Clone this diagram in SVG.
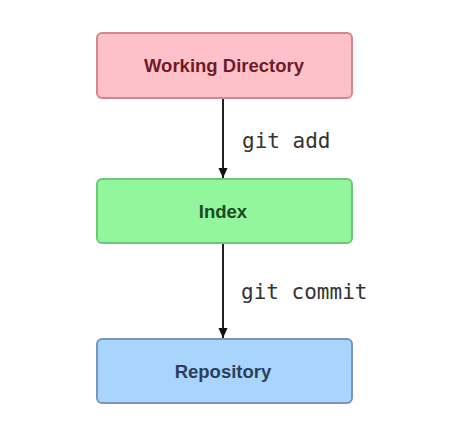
<svg xmlns="http://www.w3.org/2000/svg" width="465" height="436" viewBox="0 0 465 436">
<defs>
<style>
.box{stroke-width:2}
.lbl{font-family:"Liberation Sans",Arial,sans-serif;font-weight:bold;font-size:18.5px;text-anchor:middle}
.cmd{font-family:"DejaVu Sans Mono","Liberation Mono",monospace;font-size:21px;fill:#333}
.edge{stroke:#222;stroke-width:2;fill:none}
</style>
<marker id="ah" markerWidth="10" markerHeight="11" refX="11" refY="5" orient="auto" markerUnits="userSpaceOnUse" viewBox="0 0 11 10">
<path d="M0,0 L11,5 L0,10 Z" fill="#111"/>
</marker>
</defs>
<rect width="465" height="436" fill="#fff"/>
<g id="edges">
<line class="edge" x1="223" y1="98" x2="223" y2="178" marker-end="url(#ah)"/>
<line class="edge" x1="223" y1="243" x2="223" y2="338" marker-end="url(#ah)"/>
<text class="cmd" x="242" y="148">git add</text>
<text class="cmd" x="241" y="299">git commit</text>
</g>
<g id="working-directory">
<rect class="box" x="97" y="33" width="255" height="65" rx="5" fill="#ffc1c9" stroke="#d4868f"/>
<text class="lbl" x="224" y="72" fill="#6e1c28">Working Directory</text>
</g>
<g id="index">
<rect class="box" x="97" y="179" width="255" height="64" rx="5" fill="#92f69c" stroke="#6cc878"/>
<text class="lbl" x="223" y="218" fill="#1f4a22">Index</text>
</g>
<g id="repository">
<rect class="box" x="97" y="339" width="255" height="64" rx="5" fill="#a9d5fd" stroke="#7898bb"/>
<text class="lbl" x="223" y="378" fill="#2b3f5c">Repository</text>
</g>
</svg>
